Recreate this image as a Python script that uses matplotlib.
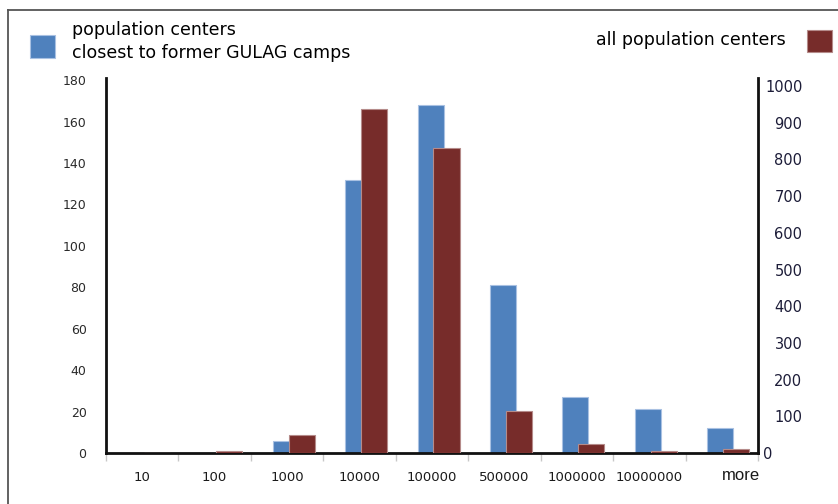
import matplotlib
matplotlib.use("Agg")
import matplotlib.pyplot as plt
import matplotlib.transforms as mtransforms
from matplotlib.patches import Rectangle
from matplotlib.lines import Line2D
import numpy as np

# Population-size bins
categories = ["10", "100", "1000", "10000", "100000", "500000",
              "1000000", "10000000", "more"]
# Counts of population centers closest to former GULAG camps (left axis)
gulag_counts = [0, 0, 6, 132, 168, 81, 27, 21, 12]
# Counts of all population centers (right axis)
all_counts = [0, 5, 48, 937, 831, 115, 24, 5, 10]

left_ticks = list(range(0, 181, 20))
right_ticks = list(range(0, 1001, 100))

BLUE = "#4f81bd"
RED = "#772c2a"

fig = plt.figure(figsize=(8.38, 5.04), dpi=100)
fig.patch.set_facecolor("white")

W, H = 838, 504
ax = fig.add_axes([106 / W, (H - 453) / H, 652 / W, 375 / H])
ax2 = ax.twinx()

x = np.arange(len(categories))
bw = 0.36
off = 0.22

ax.bar(x - 0.02, gulag_counts, width=bw, color=BLUE, edgecolor="#a9c1e2",
       linewidth=0.8, zorder=2)
ax2.bar(x + off - 0.02, all_counts, width=bw, color=RED, edgecolor="#b58b8a",
        linewidth=0.8, zorder=3)

ax.set_xlim(-0.5, len(categories) - 0.5)
ax.set_ylim(0, 181)
ax2.set_ylim(0, 1022)

# Spines
for a in (ax, ax2):
    for s in a.spines.values():
        s.set_visible(False)
ax.spines["left"].set_visible(True)
ax.spines["bottom"].set_visible(True)
ax2.spines["right"].set_visible(True)
for s in (ax.spines["left"], ax.spines["bottom"], ax2.spines["right"]):
    s.set_linewidth(2.0)
    s.set_color("#111111")
ax.spines["bottom"].set_zorder(5)

# Left axis ticks
ax.set_yticks(left_ticks)
ax.set_yticklabels([str(v) for v in left_ticks])
ax.tick_params(axis="y", length=0, pad=14, labelsize=9, labelcolor="#2a2a2a")

# Right axis ticks: right-aligned column, the zero sits next to the spine
ax2.set_yticks(right_ticks)
ax2.set_yticklabels([str(v) for v in right_ticks])
ax2.tick_params(axis="y", length=0, pad=32, labelsize=10.5,
                labelcolor="#1c1c38")
for lab in ax2.get_yticklabels():
    lab.set_horizontalalignment("right")
zero = ax2.get_yticklabels()[0]
zero.set_horizontalalignment("left")
zero.set_transform(zero.get_transform() +
                   mtransforms.ScaledTranslation(-39 / 100, 0,
                                                 fig.dpi_scale_trans))

# X axis: labels at bin centers, small gray separators between bins
ax.set_xticks(x)
ax.set_xticklabels(categories)
ax.set_xticks(np.arange(-0.5, len(categories), 1.0), minor=True)
ax.tick_params(axis="x", which="major", length=0, pad=13, labelsize=9.5,
               labelcolor="#1a1a1a")
ax.tick_params(axis="x", which="minor", length=6, width=1.0,
               color="#c8c8c8", direction="out")
xlabels = ax.get_xticklabels()
more = xlabels[-1]
more.set_fontfamily("Liberation Sans")
more.set_fontsize(12)
more.set_transform(more.get_transform() +
                   mtransforms.ScaledTranslation(19 / 100, 3 / 100,
                                                 fig.dpi_scale_trans))

# Frame lines at the top and left of the figure
fig.add_artist(Line2D([8 / W, 8 / W], [0, 1 - 10 / H], transform=fig.transFigure,
                      color="#555555", linewidth=1.3))
fig.add_artist(Line2D([8 / W, 1], [1 - 10 / H, 1 - 10 / H],
                      transform=fig.transFigure, color="#555555", linewidth=1.3))

# Legend entries
fig.add_artist(Rectangle((30 / W, 1 - 58 / H), 25 / W, 23 / H,
                         transform=fig.transFigure, facecolor=BLUE,
                         edgecolor="#a9c1e2", linewidth=0.8))
fig.text(72 / W, 1 - 30 / H, "population centers", fontsize=12.5,
         color="#000000", va="center", ha="left")
fig.text(72 / W, 1 - 53 / H, "closest to former GULAG camps", fontsize=12.5,
         color="#000000", va="center", ha="left")

fig.add_artist(Rectangle((807 / W, 1 - 52 / H), 25 / W, 22 / H,
                         transform=fig.transFigure, facecolor=RED,
                         edgecolor="#b58b8a", linewidth=0.8))
fig.text(786 / W, 1 - 40 / H, "all population centers", fontsize=12.5,
         color="#000000", va="center", ha="right")

fig.savefig("out.png", dpi=100, facecolor="white")
